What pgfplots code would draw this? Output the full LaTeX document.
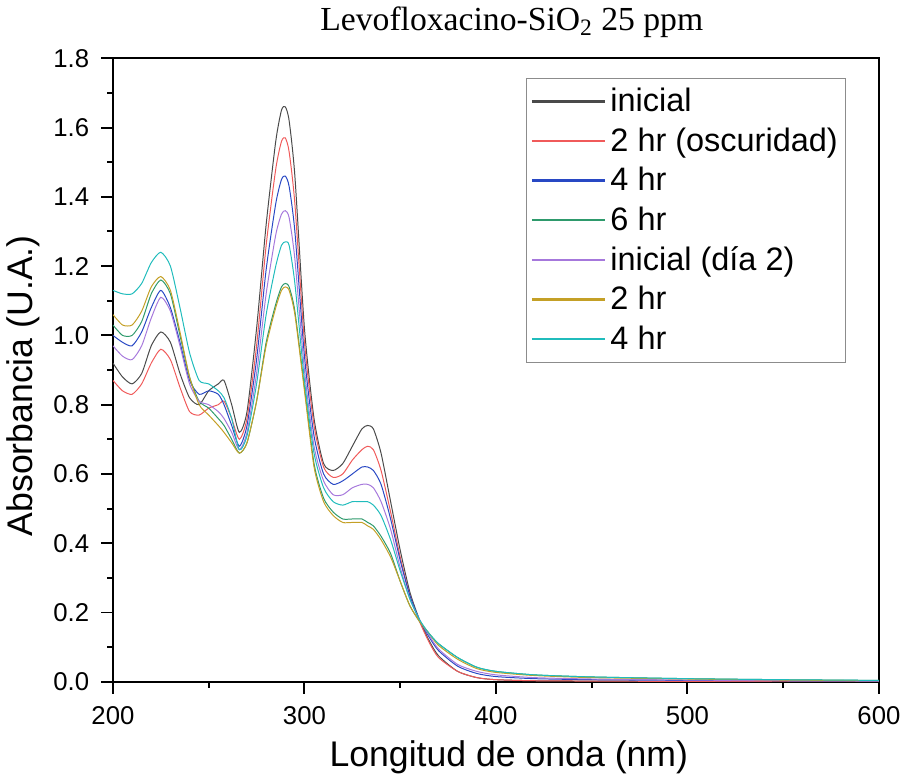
\documentclass[border=0pt]{standalone}
\usepackage{pgfplots}
\pgfplotsset{compat=1.18}
\usepackage{pgfplotstable}
\usepackage{fontspec}
\setmainfont{Liberation Sans}
\newfontfamily\titlefont{Liberation Serif}
\definecolor{cK}{HTML}{4A4A4A}
\definecolor{cR}{HTML}{F05A5A}
\definecolor{cB}{HTML}{2848C4}
\definecolor{cG}{HTML}{2E9A6C}
\definecolor{cP}{HTML}{A678DC}
\definecolor{cO}{HTML}{C4A026}
\definecolor{cC}{HTML}{20BCBC}

% x: wavelength (nm); a: inicial; b: 2 hr (oscuridad); c: 4 hr; d: 6 hr; e: inicial (dia 2); f: 2 hr; g: 4 hr
\pgfplotstableread{
x    a     b     c     d     e     f     g
200  0.92  0.87  1.00  1.03  0.97  1.06  1.13
205  0.88  0.84  0.98  1.00  0.94  1.03  1.12
210  0.86  0.83  0.97  1.00  0.93  1.03  1.12
215  0.89  0.86  1.01  1.04  0.97  1.07  1.15
220  0.97  0.92  1.08  1.12  1.05  1.14  1.21
225  1.01  0.96  1.13  1.16  1.11  1.17  1.24
230  0.98  0.93  1.08  1.12  1.07  1.13  1.20
235  0.89  0.85  0.98  1.00  0.97  1.01  1.08
240  0.82  0.78  0.87  0.88  0.86  0.88  0.95
245  0.80  0.77  0.83  0.81  0.81  0.80  0.87
250  0.84  0.79  0.84  0.79  0.80  0.77  0.86
255  0.86  0.80  0.83  0.76  0.78  0.74  0.84
258  0.87  0.81  0.80  0.74  0.76  0.72  0.82
262  0.80  0.76  0.74  0.70  0.72  0.69  0.76
266  0.72  0.70  0.68  0.66  0.67  0.66  0.67
270  0.78  0.76  0.74  0.69  0.72  0.69  0.71
275  1.02  0.97  0.93  0.81  0.89  0.81  0.86
280  1.32  1.26  1.19  0.98  1.12  0.97  1.06
285  1.56  1.48  1.38  1.09  1.29  1.08  1.20
288  1.65  1.56  1.45  1.14  1.35  1.13  1.26
290  1.66  1.57  1.46  1.15  1.36  1.14  1.27
292  1.62  1.53  1.43  1.14  1.34  1.13  1.26
295  1.46  1.38  1.30  1.07  1.22  1.06  1.15
300  1.02  0.98  0.94  0.85  0.90  0.84  0.87
305  0.76  0.74  0.71  0.63  0.68  0.62  0.66
310  0.63  0.62  0.60  0.53  0.58  0.52  0.56
315  0.61  0.59  0.57  0.49  0.54  0.48  0.52
320  0.63  0.60  0.58  0.47  0.54  0.46  0.51
325  0.68  0.64  0.60  0.47  0.56  0.46  0.52
330  0.73  0.67  0.62  0.47  0.57  0.46  0.52
333  0.74  0.68  0.62  0.46  0.57  0.45  0.52
336  0.73  0.67  0.61  0.45  0.56  0.44  0.51
340  0.66  0.61  0.57  0.42  0.52  0.41  0.48
345  0.52  0.49  0.47  0.37  0.44  0.36  0.41
350  0.38  0.36  0.35  0.29  0.33  0.29  0.32
355  0.26  0.25  0.25  0.22  0.24  0.22  0.24
360  0.18  0.175 0.18  0.175 0.18  0.175 0.18
365  0.12  0.115 0.13  0.14  0.135 0.14  0.14
370  0.075 0.07  0.09  0.11  0.095 0.105 0.11
380  0.03  0.03  0.045 0.07  0.05  0.065 0.07
390  0.012 0.012 0.024 0.042 0.03  0.038 0.042
400  0.006 0.006 0.015 0.03  0.02  0.027 0.03
420  0.003 0.003 0.009 0.02  0.012 0.018 0.02
450  0.002 0.002 0.006 0.014 0.008 0.012 0.014
500  0.001 0.001 0.004 0.009 0.005 0.008 0.009
550  0.0   0.0   0.003 0.006 0.003 0.005 0.006
600  0.0   0.0   0.002 0.004 0.002 0.003 0.004
}\spectra

\begin{document}
\begin{tikzpicture}
\begin{axis}[
  width=387pt, height=315pt, scale only axis,
  xmin=200, xmax=600, ymin=0, ymax=1.8,
  xtick={200,300,400,500,600},
  ytick={0,0.2,0.4,0.6,0.8,1.0,1.2,1.4,1.6,1.8},
  minor x tick num=1, minor y tick num=1,
  tick align=outside, xtick pos=bottom, ytick pos=left,
  major tick length=6pt, minor tick length=3pt,
  every tick/.style={black, line width=1pt},
  axis line style={line width=1pt},
  /pgf/number format/assume math mode=true,
  yticklabel style={/pgf/number format/fixed, /pgf/number format/fixed zerofill,
    /pgf/number format/precision=1, /tikz/xshift=-2.5pt},
  xticklabel style={/pgf/number format/fixed, /tikz/yshift=-3pt},
  ticklabel style={font=\fontsize{13}{15}\selectfont},
  xlabel={Longitud de onda (nm)},
  ylabel={Absorbancia (U.A.)},
  label style={font=\fontsize{18}{21}\selectfont},
  xlabel style={xshift=6.5pt, yshift=-1pt},
  ylabel style={xshift=-8pt},
  title={\titlefont\fontsize{17}{20}\selectfont Levofloxacino-SiO\textsubscript{2} 25 ppm},
  title style={yshift=1pt, xshift=8pt},
  legend style={at={(0.9575,0.969)}, anchor=north east, draw=black!45, line width=0.7pt,
    font=\fontsize{16.4}{19}\selectfont, row sep=2.6pt, inner xsep=2pt, inner ysep=3pt},
  legend cell align=left,
  legend image code/.code={\draw[#1, line width=1.3pt] (0pt,0pt) -- (37pt,0pt);},
  every axis plot/.append style={line width=0.5pt, smooth, tension=0.4},
]
\addplot[cK] table[x=x, y=a] {\spectra};
\addlegendentry{inicial}
\addplot[cR] table[x=x, y=b] {\spectra};
\addlegendentry{2 hr (oscuridad)}
\addplot[cB] table[x=x, y=c] {\spectra};
\addlegendentry{4 hr}
\addplot[cG] table[x=x, y=d] {\spectra};
\addlegendentry{6 hr}
\addplot[cP] table[x=x, y=e] {\spectra};
\addlegendentry{inicial (día 2)}
\addplot[cO] table[x=x, y=f] {\spectra};
\addlegendentry{2 hr}
\addplot[cC] table[x=x, y=g] {\spectra};
\addlegendentry{4 hr}
\end{axis}
\end{tikzpicture}
\end{document}
